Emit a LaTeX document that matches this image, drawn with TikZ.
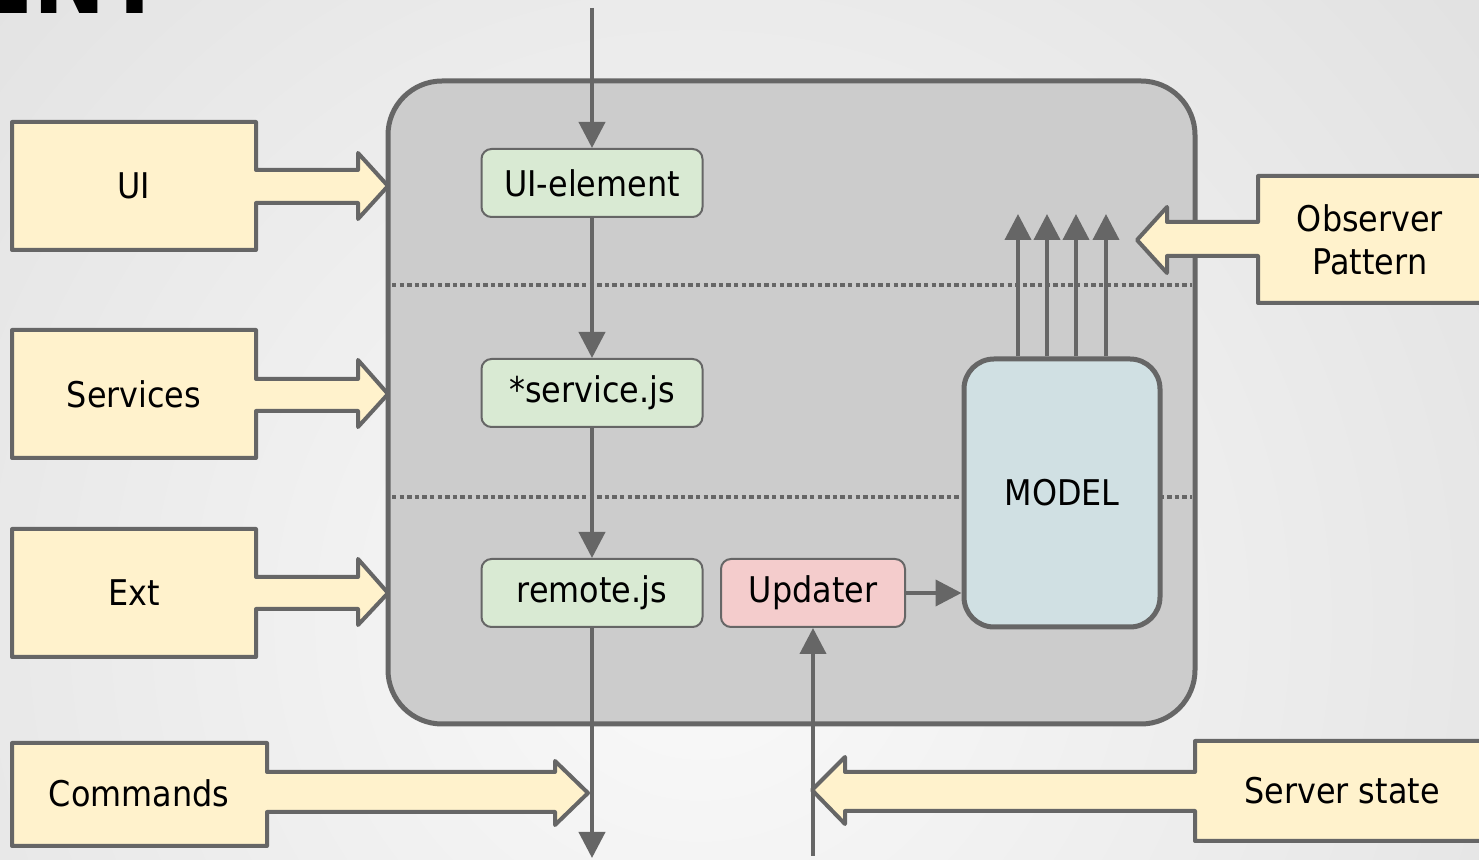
\documentclass[tikz,border=0pt]{standalone}
\usepackage{fontspec}
\setmainfont{DejaVu Sans Condensed}
\usetikzlibrary{arrows.meta}
\definecolor{edge}{HTML}{666666}
\definecolor{yel}{HTML}{FFF2CC}
\definecolor{grn}{HTML}{D9EAD3}
\definecolor{pnk}{HTML}{F4CCCC}
\definecolor{blu}{HTML}{D0E0E3}
\definecolor{corefill}{HTML}{CCCCCC}
\begin{document}
\begin{tikzpicture}[x=0.5pt,y=-0.5pt,
  lbl/.style={font=\fontsize{17.7}{21.5}\selectfont, text=black, align=center},
  call/.style={draw=edge, fill=yel, line width=2pt, line join=round},
  gbox/.style={draw=edge, line width=1pt, rounded corners=5pt, fill=grn, minimum width=110.5pt, minimum height=34pt, lbl, inner sep=0pt},
  arr/.style={draw=edge, line width=2pt, -{Triangle[width=13pt,length=13pt]}},
  sep/.style={draw=edge, line width=1.8pt, dash pattern=on 2.2pt off 1.6pt}
]
\useasboundingbox (0,0) rectangle (1479,860);
\clip (0,0) rectangle (1479,860);
% background
\shade[inner color=white!98!black, outer color=black!13] (700,620) circle (1150);
% title fragment
\node[anchor=base west, inner sep=0pt, font=\fontsize{48}{48}\selectfont\bfseries, text=black] (title) at (-26,14) {ENT};
% core container
\node[draw=edge, fill=corefill, line width=2.5pt, rounded corners=27pt, minimum width=403.5pt, minimum height=321.5pt] (core) at (791.5,402.5) {};
\draw[sep] (392,285) -- (1192,285);
\draw[sep] (392,497) -- (1192,497);
% inner boxes
\node[gbox] (uie) at (592,183) {UI-element};
\node[gbox] (svc) at (592,393) {*service.js};
\node[gbox] (rem) at (592,593) {remote.js};
\node[gbox, fill=pnk, minimum width=92pt] (upd) at (813,593) {Updater};
\node[draw=edge, fill=blu, line width=2.5pt, rounded corners=15pt, minimum width=98pt, minimum height=134pt, lbl] (model) at (1062,493) {MODEL};
% callouts
\draw[call] (12,122) -- (256,122) -- (256,170) -- (358,170) -- (358,153) -- (388,186) -- (358,219) -- (358,203) -- (256,203) -- (256,250) -- (12,250) -- cycle;
\node[lbl] (ui) at (134,186) {UI};
\draw[call] (12,330) -- (256,330) -- (256,379) -- (358,379) -- (358,360) -- (388,394) -- (358,427) -- (358,411) -- (256,411) -- (256,458) -- (12,458) -- cycle;
\node[lbl] (services) at (134,394) {Services};
\draw[call] (12,529) -- (256,529) -- (256,577) -- (358,577) -- (358,559) -- (388,593) -- (358,625) -- (358,609) -- (256,609) -- (256,657) -- (12,657) -- cycle;
\node[lbl] (ext) at (134,593) {Ext};
\draw[call] (12,743) -- (267,743) -- (267,772) -- (555,772) -- (555,761) -- (588,793) -- (555,825) -- (555,812) -- (267,812) -- (267,846) -- (12,846) -- cycle;
\node[lbl] (commands) at (139,793) {Commands};
\draw[call] (1500,741) -- (1195,741) -- (1195,772) -- (845,772) -- (845,757) -- (812,790) -- (845,824) -- (845,811) -- (1195,811) -- (1195,841) -- (1500,841);
\node[lbl] (server) at (1342,791) {Server state};
\draw[call] (1500,176) -- (1258,176) -- (1258,222) -- (1167,222) -- (1167,207) -- (1137,240) -- (1167,273) -- (1167,256) -- (1258,256) -- (1258,303) -- (1500,303);
\node[lbl] (observer) at (1370,240) {Observer\\Pattern};
% connectors
\coordinate (topin) at (592,8);
\coordinate (botout) at (592,858);
\coordinate (srvin) at (813,856);
\draw[arr] (topin) -- (uie.north);
\draw[arr] (uie) -- (svc);
\draw[arr] (svc) -- (rem);
\draw[arr] (rem) -- (botout);
\draw[arr] (srvin) -- (upd);
\draw[arr] (upd.east) -- (upd.east -| model.west);
\foreach \x [count=\i] in {1018,1047,1076,1106} {
  \coordinate (o\i) at (\x,214);
  \draw[arr] (o\i |- model.north) -- (o\i);
}
\end{tikzpicture}
\end{document}
